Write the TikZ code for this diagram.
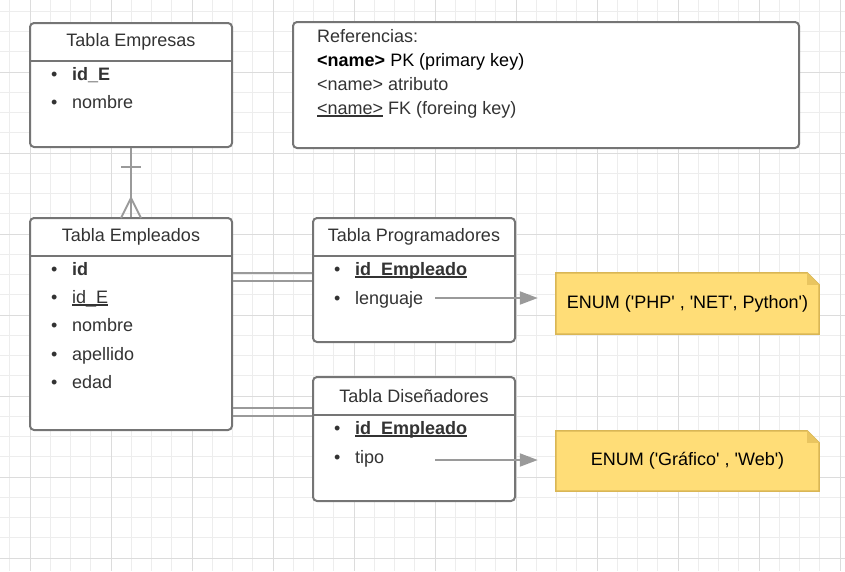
\documentclass[tikz,border=0pt]{standalone}
\usepackage{fontspec}
\setmainfont{Liberation Sans}
\usetikzlibrary{arrows.meta}
\definecolor{boxline}{HTML}{757575}
\definecolor{relline}{HTML}{9A9A9A}
\definecolor{txt}{HTML}{333333}
\definecolor{minorgrid}{HTML}{EDEDED}
\definecolor{majorgrid}{HTML}{DCDCDC}
\definecolor{notefill}{HTML}{FFDD77}
\definecolor{notefold}{HTML}{E9C560}
\definecolor{noteline}{HTML}{D9B655}
\newcommand{\campo}[1]{\makebox[21pt][l]{\textbullet}#1}
\newcommand{\q}{\textquotesingle}
\newcommand{\subrayar}[1]{\setbox0\hbox{#1}\rlap{\rule[-2.5pt]{\wd0}{1.1pt}}\box0\relax}

\begin{document}
\begin{tikzpicture}[x=1pt, y=-1pt, font=\fontsize{18}{21}\selectfont,
    tabla/.style={draw=boxline, line width=2pt, rounded corners=4pt, fill=white, minimum width=202pt, inner sep=0pt},
    titulo/.style={anchor=north, minimum width=202pt, minimum height=39pt, inner sep=0pt, text=txt},
    sep/.style={draw=boxline, line width=2pt},
    item/.style={anchor=base west, inner sep=0pt, text=txt},
    nota/.style={minimum width=263pt, inner sep=0pt},
    rel/.style={draw=relline, line width=2pt},
    flecha/.style={draw=relline, line width=2pt, -{Triangle[length=18pt, width=13pt]}, shorten >=18pt}]
    % background grid
    \useasboundingbox (0,0) rectangle (845,571);
    \foreach \i in {0,...,41} \draw[minorgrid, line width=1pt] (9.75+20.25*\i,0) -- (9.75+20.25*\i,571);
    \foreach \j in {0,...,27} \draw[minorgrid, line width=1pt] (0,11.25+20.25*\j) -- (845,11.25+20.25*\j);
    \foreach \i in {0,...,10} \draw[majorgrid, line width=1pt] (30+81*\i,0) -- (30+81*\i,571);
    \foreach \j in {0,...,6} \draw[majorgrid, line width=1pt] (0,558-81*\j) -- (845,558-81*\j);
    % tables
    \node[tabla, minimum height=124pt] (empresas) at (131,85) {};
    \node[titulo] (empresasT) at (empresas.north) {Tabla Empresas};
    \draw[sep] (empresasT.south west) -- (empresasT.south east);
    \node[item] (empresas1) at (51,80) {\campo{\textbf{id\_E}}};
    \node[item] (empresas2) at (51,108) {\campo{nombre}};

    \node[tabla, minimum height=212pt] (empleados) at (131,324) {};
    \node[titulo] (empleadosT) at (empleados.north) {Tabla Empleados};
    \draw[sep] (empleadosT.south west) -- (empleadosT.south east);
    \node[item] (empleados1) at (51,275) {\campo{\textbf{id}}};
    \node[item] (empleados2) at (51,303) {\campo{\subrayar{id\_E}}};
    \node[item] (empleados3) at (51,331) {\campo{nombre}};
    \node[item] (empleados4) at (51,360) {\campo{apellido}};
    \node[item] (empleados5) at (51,388) {\campo{edad}};

    \node[tabla, minimum height=124pt] (programadores) at (414,280) {};
    \node[titulo] (programadoresT) at (programadores.north) {Tabla Programadores};
    \draw[sep] (programadoresT.south west) -- (programadoresT.south east);
    \node[item] (programadores1) at (334,275) {\campo{\subrayar{\textbf{id\_Empleado}}}};
    \node[item] (programadores2) at (334,304) {\campo{lenguaje}};

    \node[tabla, minimum height=124pt] (disenadores) at (414,439) {};
    \node[titulo] (disenadoresT) at (disenadores.north) {Tabla Diseñadores};
    \draw[sep] (disenadoresT.south west) -- (disenadoresT.south east);
    \node[item] (disenadores1) at (334,434) {\campo{\subrayar{\textbf{id\_Empleado}}}};
    \node[item] (disenadores2) at (334,463) {\campo{tipo}};

    % references
    \node[tabla, minimum width=506pt, minimum height=126pt] (ref) at (546,85) {};
    \node[item] (ref1) at (317,42) {Referencias:};
    \node[item, text=black] (ref2) at (317,66) {\textbf{\textless name\textgreater} PK (primary key)};
    \node[item] (ref3) at (317,90) {\textless name\textgreater{} atributo};
    \node[item] (ref4) at (317,114) {\subrayar{\textless name\textgreater} FK (foreing key)};

    % enum notes
    \node[nota, minimum height=61pt] (enum1) at (687.5,303.5) {};
    \node[nota, minimum height=60pt] (enum2) at (687.5,461) {};
    \foreach \n in {enum1, enum2} {
        \filldraw[fill=notefill, draw=noteline, line width=1.5pt] (\n.north west) -- ([xshift=-12pt]\n.north east)
            -- ([yshift=-12pt]\n.north east) -- (\n.south east) -- (\n.south west) -- cycle;
        \fill[notefold] ([xshift=-12pt]\n.north east) -- ([xshift=-12pt, yshift=-12pt]\n.north east) -- ([yshift=-12pt]\n.north east) -- cycle;
    }
    \node[text=black] (enum1T) at (enum1) {ENUM (\q PHP\q{} , \q NET\q, Python\q)};
    \node[text=black] (enum2T) at (enum2) {ENUM (\q Gráfico\q{} , \q Web\q)};

    % edges
    \draw[rel] (empresas.south) -- (empleados.north);
    \draw[rel] (121,167) -- (141,167);
    \draw[rel] (121,218) -- (131,198) -- (141,218);
    \coordinate (p1) at (empleados.east |- 0,273);
    \coordinate (p2) at (empleados.east |- 0,281);
    \draw[rel] (p1) -- (p1 -| programadores.west);
    \draw[rel] (p2) -- (p2 -| programadores.west);
    \coordinate (d1) at (empleados.east |- 0,408);
    \coordinate (d2) at (empleados.east |- 0,416);
    \draw[rel] (d1) -- (d1 -| disenadores.west);
    \draw[rel] (d2) -- (d2 -| disenadores.west);
    \coordinate (lenguaje) at (435,298);
    \coordinate (tipo) at (435,460);
    \draw[flecha] (lenguaje) -- (lenguaje -| enum1.west);
    \draw[flecha] (tipo) -- (tipo -| enum2.west);
\end{tikzpicture}
\end{document}
